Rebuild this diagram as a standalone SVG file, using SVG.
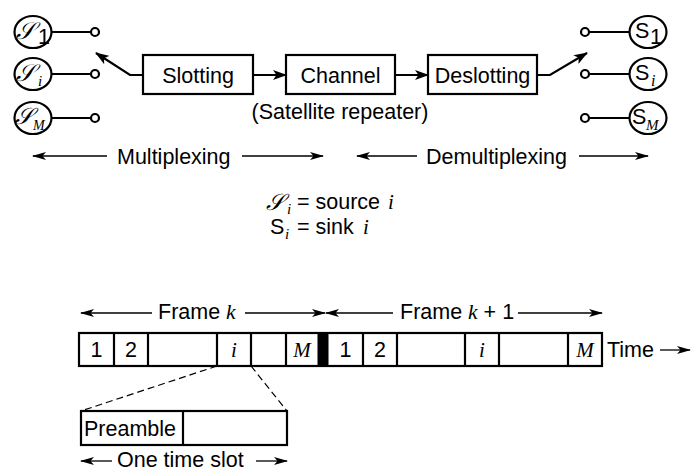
<svg xmlns="http://www.w3.org/2000/svg" width="692" height="472" viewBox="0 0 692 472">
<style>
.t{font-family:"Liberation Sans",Arial,sans-serif;font-size:21.5px;fill:#000}
.m{font-family:"Liberation Serif","Times New Roman",serif;font-style:italic;fill:#000}
.sc{font-family:"DejaVu Serif","DejaVu Sans","Noto Sans",serif;font-style:italic;fill:#000}
.box{fill:#fff;stroke:#000;stroke-width:2.2}
.ln{fill:none;stroke:#000;stroke-width:2.2}
.thin{fill:none;stroke:#000;stroke-width:1.3}
.dash{fill:none;stroke:#000;stroke-width:1.2;stroke-dasharray:7 4}
</style>
<defs>
<marker id="ah" viewBox="0 0 14 10" refX="13" refY="5" markerWidth="14" markerHeight="10" markerUnits="userSpaceOnUse" orient="auto">
<path d="M0,0 L14,5 L0,10 L3.5,5 Z" fill="#000"/>
</marker>
<marker id="as" viewBox="0 0 14 8" refX="13" refY="4" markerWidth="14" markerHeight="8" markerUnits="userSpaceOnUse" orient="auto">
<path d="M0,0 L14,4 L0,8 L3.5,4 Z" fill="#000"/>
</marker>
</defs>

<!-- sources -->
<g id="src1"><ellipse cx="33" cy="32" rx="18.5" ry="16" class="box"/><text x="16" y="39" class="sc" font-size="24">𝒮</text><text x="38" y="44" class="t" font-size="13">1</text></g>
<g id="srci"><ellipse cx="33" cy="74" rx="18.5" ry="16" class="box"/><text x="16" y="81" class="sc" font-size="24">𝒮</text><text x="38" y="86" class="m" font-size="15">i</text></g>
<g id="srcM"><ellipse cx="33" cy="118" rx="18.5" ry="16" class="box"/><text x="15" y="124" class="sc" font-size="23">𝒮</text><text x="33" y="130" class="m" font-size="14">M</text></g>

<!-- sinks -->
<g id="sink1"><ellipse cx="648" cy="32" rx="18.5" ry="16" class="box"/><text x="635" y="38" class="t" font-size="20">S</text><text x="650" y="44" class="t" font-size="14">1</text></g>
<g id="sinki"><ellipse cx="648" cy="74" rx="18.5" ry="16" class="box"/><text x="635" y="80" class="t" font-size="20">S</text><text x="651" y="86" class="m" font-size="16">i</text></g>
<g id="sinkM"><ellipse cx="648" cy="118" rx="18.5" ry="16" class="box"/><text x="632" y="124" class="t" font-size="20">S</text><text x="646" y="130" class="m" font-size="15">M</text></g>

<!-- blocks -->
<g id="slotting"><rect x="143" y="55" width="110" height="39" class="box"/><text x="198" y="82.5" class="t" text-anchor="middle">Slotting</text></g>
<g id="channel"><rect x="286" y="55" width="109" height="39" class="box"/><text x="340.5" y="82.5" class="t" text-anchor="middle">Channel</text><text x="340" y="119" class="t" text-anchor="middle">(Satellite repeater)</text></g>
<g id="deslotting"><rect x="428" y="55" width="109" height="39" class="box"/><text x="482.5" y="82.5" class="t" text-anchor="middle">Deslotting</text></g>

<!-- connectors -->
<g id="connectors">
<line x1="51.5" y1="32" x2="91" y2="32" class="ln"/>
<line x1="51.5" y1="74" x2="91" y2="74" class="ln"/>
<line x1="51.5" y1="118" x2="91" y2="118" class="ln"/>
<circle cx="95" cy="32" r="4" class="box"/>
<circle cx="95" cy="74" r="4" class="box"/>
<circle cx="95" cy="118" r="4" class="box"/>
<line x1="589" y1="32" x2="629.5" y2="32" class="ln"/>
<line x1="589" y1="74" x2="629.5" y2="74" class="ln"/>
<line x1="589" y1="118" x2="629.5" y2="118" class="ln"/>
<circle cx="585" cy="32" r="4" class="box"/>
<circle cx="585" cy="74" r="4" class="box"/>
<circle cx="585" cy="118" r="4" class="box"/>
<polyline points="143,75 130,75 96,53" class="ln" marker-end="url(#ah)"/>
<polyline points="537,75 550,75 587,53" class="ln" marker-end="url(#ah)"/>
<line x1="253" y1="75" x2="286" y2="75" class="ln" marker-end="url(#ah)"/>
<line x1="395" y1="75" x2="428" y2="75" class="ln" marker-end="url(#ah)"/>
<line x1="107" y1="156" x2="33" y2="156" class="thin" marker-end="url(#as)"/>
<line x1="242" y1="156" x2="323" y2="156" class="thin" marker-end="url(#as)"/>
<line x1="417" y1="156" x2="357" y2="156" class="thin" marker-end="url(#as)"/>
<line x1="579" y1="156" x2="648" y2="156" class="thin" marker-end="url(#as)"/>
<line x1="152" y1="313" x2="81" y2="313" class="thin" marker-end="url(#as)"/>
<line x1="245" y1="313" x2="325" y2="313" class="thin" marker-end="url(#as)"/>
<line x1="393" y1="313" x2="326" y2="313" class="thin" marker-end="url(#as)"/>
<line x1="518" y1="313" x2="602" y2="313" class="thin" marker-end="url(#as)"/>
<line x1="660" y1="350" x2="690" y2="350" class="thin" marker-end="url(#as)"/>
<line x1="112" y1="461" x2="81" y2="461" class="thin" marker-end="url(#as)"/>
<line x1="256" y1="461" x2="287" y2="461" class="thin" marker-end="url(#as)"/>
<line x1="217" y1="366" x2="81" y2="411" class="dash"/>
<line x1="251" y1="366" x2="287" y2="411" class="dash"/>
</g>

<text x="117" y="163.5" class="t">Multiplexing</text>
<text x="426" y="163.5" class="t">Demultiplexing</text>

<!-- legend -->
<g id="legend">
<text x="266" y="210" class="sc" font-size="23">𝒮</text><text x="287" y="214" class="m" font-size="15">i</text>
<text x="297" y="209" class="t">= source</text><text x="388" y="209" class="m" font-size="21">i</text>
<text x="270" y="234" class="t">S</text><text x="285" y="239" class="m" font-size="15">i</text>
<text x="297" y="234" class="t">= sink</text><text x="363" y="234" class="m" font-size="21">i</text>
</g>

<!-- frames -->
<text x="158" y="319" class="t">Frame <tspan class="m">k</tspan></text>
<text x="400" y="319" class="t">Frame <tspan class="m">k</tspan> + 1</text>
<g id="frames">
<rect x="79" y="333" width="523" height="33" class="box"/>
<rect x="318" y="333" width="10" height="33" fill="#000" stroke="#000" stroke-width="1"/>
<path d="M114,333V366M148,333V366M217,333V366M251,333V366M286,333V366M363,333V366M397,333V366M465,333V366M499,333V366M568,333V366" class="ln"/>
<text x="96.5" y="357" class="t" text-anchor="middle">1</text>
<text x="131" y="357" class="t" text-anchor="middle">2</text>
<text x="234" y="357" class="m" font-size="21" text-anchor="middle">i</text>
<text x="302" y="357" class="m" font-size="21" text-anchor="middle">M</text>
<text x="345.5" y="357" class="t" text-anchor="middle">1</text>
<text x="380" y="357" class="t" text-anchor="middle">2</text>
<text x="482" y="357" class="m" font-size="21" text-anchor="middle">i</text>
<text x="585" y="357" class="m" font-size="21" text-anchor="middle">M</text>
<text x="607" y="357" class="t">Time</text>
</g>
<g id="slot">
<rect x="81" y="411" width="206" height="34" class="box"/>
<line x1="183" y1="411" x2="183" y2="445" class="ln"/>
<text x="84" y="436" class="t">Preamble</text>
<text x="117" y="467" class="t" font-size="21">One time slot</text>
</g>
</svg>
